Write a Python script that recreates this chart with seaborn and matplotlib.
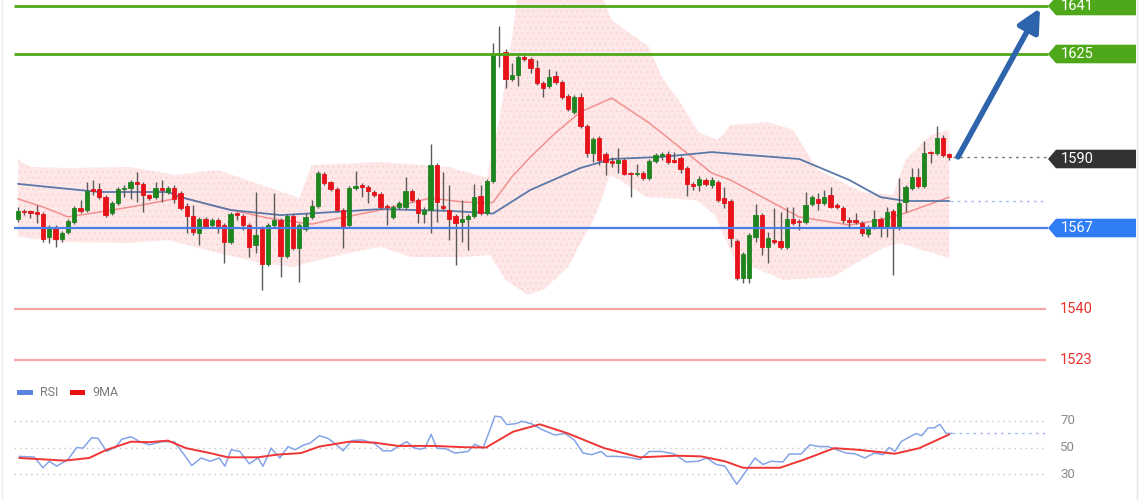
import numpy as np
import matplotlib
matplotlib.use("Agg")
import matplotlib.pyplot as plt
from matplotlib.patches import Polygon, Rectangle
import seaborn as sns

# ---------------- data ----------------
opens = [1570.0, 1572.7, 1572.7, 1572.0, 1571.7, 1564.0, 1567.0, 1563.3, 1565.7, 1569.0,
         1573.7, 1573.0, 1579.7, 1580.0, 1577.3, 1572.0, 1575.3, 1580.0, 1580.3, 1582.3,
         1581.7, 1578.0, 1577.3, 1580.3, 1579.0, 1580.3, 1578.7, 1574.3, 1571.0, 1565.3,
         1570.0, 1568.0, 1569.7, 1568.0, 1562.3, 1572.0, 1571.0, 1568.0, 1561.3, 1567.0,
         1555.0, 1568.0, 1569.7, 1557.7, 1571.0, 1560.3, 1566.7, 1570.7, 1574.3, 1585.0,
         1582.3, 1580.0, 1573.0, 1568.0, 1580.3, 1581.3, 1580.7, 1579.0, 1578.3, 1574.3,
         1570.7, 1574.0, 1574.0, 1579.3, 1576.3, 1571.7, 1573.0, 1588.0, 1574.0, 1573.0,
         1571.0, 1569.0, 1570.0, 1571.0, 1577.7, 1572.0, 1582.7, 1624.7, 1625.7, 1616.7,
         1618.0, 1624.0, 1623.3, 1620.3, 1615.3, 1614.3, 1617.7, 1615.7, 1611.0, 1605.7,
         1610.7, 1601.0, 1592.0, 1597.0, 1591.7, 1589.3, 1588.7, 1589.7, 1585.3, 1585.0,
         1585.3, 1583.7, 1589.3, 1591.0, 1591.7, 1589.7, 1590.3, 1587.0, 1581.7, 1581.3,
         1583.0, 1581.3, 1582.3, 1577.0, 1576.0, 1562.7, 1550.3, 1550.3, 1564.0, 1571.3,
         1560.7, 1563.0, 1562.7, 1560.7, 1570.0, 1569.3, 1569.0, 1575.0, 1576.7, 1575.3,
         1578.0, 1574.7, 1573.7, 1569.7, 1569.7, 1568.7, 1565.0, 1567.3, 1570.0, 1567.0,
         1572.7, 1567.0, 1575.7, 1580.3, 1584.0, 1581.0, 1592.3, 1592.0, 1597.0, 1591.7]
highs = [1574.0, 1573.3, 1573.0, 1574.7, 1572.3, 1568.0, 1568.0, 1566.0, 1570.0, 1574.3,
         1576.3, 1582.3, 1583.0, 1582.0, 1578.0, 1576.0, 1580.7, 1581.3, 1583.0, 1585.7,
         1582.3, 1578.5, 1582.3, 1583.0, 1581.0, 1581.3, 1579.3, 1575.3, 1574.7, 1570.7,
         1570.7, 1570.3, 1570.3, 1568.7, 1572.3, 1572.3, 1571.7, 1568.7, 1579.0, 1567.7,
         1568.7, 1578.7, 1570.3, 1571.7, 1571.7, 1568.7, 1572.0, 1576.3, 1586.0, 1585.7,
         1582.7, 1580.7, 1573.7, 1581.0, 1586.0, 1582.0, 1581.3, 1579.7, 1579.0, 1575.0,
         1574.7, 1576.0, 1584.0, 1580.0, 1577.0, 1574.0, 1595.0, 1588.7, 1585.7, 1581.3,
         1571.7, 1576.3, 1571.7, 1581.7, 1581.3, 1583.3, 1628.7, 1634.3, 1626.7, 1622.0,
         1624.7, 1624.7, 1624.0, 1623.0, 1616.0, 1620.0, 1619.3, 1616.3, 1611.7, 1611.3,
         1612.0, 1601.7, 1597.3, 1597.7, 1592.3, 1590.7, 1593.7, 1590.3, 1585.7, 1588.3,
         1586.0, 1590.0, 1592.0, 1592.3, 1592.7, 1592.3, 1591.0, 1587.7, 1582.3, 1584.3,
         1583.7, 1584.0, 1583.0, 1580.7, 1576.7, 1563.3, 1559.0, 1565.3, 1575.0, 1572.0,
         1565.7, 1573.7, 1572.3, 1574.0, 1574.0, 1570.0, 1579.0, 1578.0, 1578.7, 1579.7,
         1580.7, 1575.3, 1574.3, 1570.7, 1572.0, 1569.3, 1568.0, 1573.0, 1570.7, 1574.0,
         1573.3, 1583.7, 1581.3, 1587.0, 1587.0, 1596.0, 1592.7, 1601.0, 1598.0, 1592.0]
lows = [1569.0, 1571.3, 1570.3, 1568.7, 1562.3, 1562.0, 1560.7, 1562.5, 1565.0, 1568.3,
        1572.0, 1572.5, 1578.0, 1576.8, 1570.7, 1571.3, 1574.7, 1577.3, 1576.7, 1575.7,
        1572.3, 1576.3, 1576.7, 1575.7, 1578.3, 1575.3, 1573.0, 1565.3, 1564.7, 1561.3,
        1567.0, 1567.3, 1565.3, 1555.3, 1561.7, 1569.7, 1566.3, 1557.3, 1558.7, 1546.3,
        1554.3, 1567.3, 1550.7, 1557.0, 1559.7, 1549.0, 1566.0, 1570.0, 1573.7, 1581.3,
        1579.3, 1572.3, 1560.3, 1567.0, 1579.7, 1577.3, 1575.3, 1577.3, 1573.3, 1568.0,
        1570.0, 1573.3, 1573.3, 1575.7, 1568.7, 1568.7, 1565.3, 1569.0, 1573.0, 1563.0,
        1554.7, 1562.3, 1559.7, 1570.3, 1571.3, 1571.3, 1582.0, 1620.7, 1613.7, 1616.0,
        1614.3, 1622.7, 1618.7, 1614.7, 1610.7, 1613.7, 1615.0, 1610.0, 1606.0, 1605.0,
        1600.3, 1590.7, 1589.0, 1588.0, 1584.7, 1587.3, 1585.3, 1584.7, 1577.3, 1584.3,
        1583.0, 1583.0, 1588.7, 1589.7, 1588.3, 1588.7, 1585.3, 1577.7, 1579.7, 1579.3,
        1581.0, 1580.3, 1575.7, 1573.7, 1560.7, 1549.7, 1548.7, 1548.7, 1562.3, 1558.0,
        1555.3, 1561.7, 1560.0, 1560.0, 1568.0, 1566.3, 1568.3, 1574.3, 1573.0, 1574.7,
        1573.7, 1573.3, 1568.7, 1567.3, 1568.3, 1564.3, 1564.0, 1566.7, 1564.0, 1564.0,
        1551.3, 1566.3, 1572.3, 1579.7, 1580.3, 1580.3, 1588.7, 1591.3, 1590.7, 1589.7]
closes = [1572.7, 1572.3, 1572.0, 1571.8, 1563.3, 1567.0, 1563.3, 1565.3, 1569.3, 1573.7,
          1572.7, 1579.3, 1579.5, 1577.3, 1571.3, 1575.3, 1580.0, 1580.3, 1582.3, 1581.7,
          1578.0, 1577.0, 1580.3, 1579.7, 1580.3, 1576.7, 1573.7, 1571.0, 1565.7, 1570.0,
          1567.7, 1569.7, 1567.7, 1562.3, 1571.7, 1571.3, 1568.0, 1560.7, 1564.7, 1555.0,
          1568.0, 1569.7, 1557.7, 1571.0, 1560.3, 1568.0, 1570.7, 1574.3, 1585.3, 1582.0,
          1580.0, 1573.0, 1567.7, 1580.3, 1581.0, 1580.7, 1579.3, 1578.0, 1574.0, 1574.0,
          1574.0, 1575.3, 1579.3, 1576.3, 1572.0, 1573.0, 1588.0, 1575.7, 1573.7, 1570.0,
          1568.7, 1570.0, 1571.0, 1577.3, 1572.0, 1582.7, 1625.0, 1625.3, 1616.7, 1618.0,
          1624.0, 1623.3, 1620.3, 1615.3, 1613.7, 1617.3, 1615.7, 1610.7, 1606.7, 1610.7,
          1601.0, 1592.0, 1596.7, 1589.7, 1589.0, 1588.7, 1589.7, 1585.0, 1585.0, 1585.3,
          1583.7, 1589.3, 1591.3, 1591.7, 1589.0, 1589.0, 1586.7, 1581.7, 1581.0, 1583.3,
          1581.7, 1583.0, 1576.3, 1575.3, 1563.7, 1550.3, 1558.3, 1564.7, 1571.3, 1560.7,
          1563.7, 1562.3, 1560.7, 1570.0, 1568.7, 1569.0, 1574.7, 1577.3, 1575.3, 1577.3,
          1574.0, 1574.0, 1569.7, 1569.0, 1569.0, 1565.3, 1567.0, 1570.0, 1567.0, 1572.3,
          1567.0, 1575.3, 1580.7, 1584.0, 1581.0, 1592.0, 1592.0, 1597.0, 1591.3, 1590.7]

# long moving average (blue) read at bar positions
ma_blue_bar = [0, 13, 24, 26, 34, 42, 48, 58, 69, 75, 76, 82, 90, 95, 103, 111, 117, 125, 133, 138, 142, 149]
ma_blue = [1581.7, 1579.0, 1579.0, 1577.3, 1573.0, 1571.3, 1572.0, 1573.3, 1572.7, 1572.0, 1571.8,
           1579.7, 1587.0, 1590.0, 1590.7, 1592.3, 1591.3, 1590.0, 1583.0, 1577.3, 1576.0, 1576.0]
# middle band (red)
ma_red_bar = [0, 4, 8, 13, 18, 24, 26, 32, 40, 47, 50, 58, 66, 71, 75, 76, 79, 82, 86, 90, 95,
              101, 106, 111, 114, 120, 125, 133, 138, 142, 149]
ma_red = [1576.7, 1574.0, 1570.7, 1572.3, 1574.0, 1576.3, 1577.3, 1574.0, 1570.3, 1568.3, 1569.7,
          1573.0, 1577.0, 1575.7, 1575.3, 1575.5, 1584.0, 1590.7, 1598.7, 1605.7, 1610.3,
          1602.0, 1593.7, 1585.3, 1583.0, 1576.3, 1570.7, 1568.0, 1569.7, 1572.0, 1577.3]
# Bollinger envelope
band_up_bar = [0, 2, 8, 18, 25, 32, 39, 45, 47, 58, 69, 75, 77, 79, 80, 93, 95, 101, 103, 106, 109,
               112, 114, 120, 124, 128, 135, 140, 142, 146, 149]
band_up = [1589.7, 1587.3, 1587.0, 1587.3, 1584.7, 1586.3, 1581.3, 1577.0, 1588.0, 1589.0,
           1587.3, 1583.7, 1603.0, 1629.7, 1646.3, 1646.3, 1636.3, 1627.3, 1617.3, 1608.7, 1598.7,
           1596.3, 1601.3, 1602.3, 1599.7, 1586.3, 1579.0, 1578.0, 1589.7, 1598.0, 1599.7]
band_lo_bar = [0, 8, 18, 24, 32, 39, 44, 48, 53, 58, 63, 71, 75.5, 78, 81.5, 84, 88, 92.6, 94.7,
               96.3, 100.6, 108.6, 111.5, 114.7, 118.7, 122.4, 130.4, 133, 138.4, 141, 149]
band_lo = [1564.0, 1562.3, 1562.0, 1563.0, 1558.7, 1555.3, 1554.0, 1556.3, 1558.7, 1560.7,
           1557.3, 1557.3, 1558.0, 1549.7, 1544.7, 1546.3, 1554.0, 1572.0, 1584.7, 1583.0,
           1577.3, 1576.3, 1571.3, 1556.3, 1553.0, 1549.7, 1550.7, 1554.0, 1560.3, 1562.0, 1557.0]

# RSI panel
rsi_bar = [0.2, 2.6, 4.0, 5.0, 6.2, 8.0, 9.4, 10.4, 11.8, 12.8,
           14.2, 15.7, 16.6, 18.1, 19.5, 21.0, 23.0, 25.0, 26.4, 27.8,
           29.3, 30.7, 32.2, 33.1, 34.1, 35.5, 37.0, 38.4, 39.2, 40.5,
           41.9, 43.2, 44.3, 45.8, 46.7, 48.2, 49.6, 51.0, 52.0, 53.4,
           55.0, 57.0, 58.4, 59.8, 60.8, 62.2, 63.2, 64.2, 65.1, 66.1,
           67.0, 68.5, 69.9, 72.0, 73.1, 74.4, 75.4, 76.3, 77.3, 78.2,
           79.7, 80.6, 82.1, 84.0, 85.9, 87.5, 89.0, 90.4, 91.8, 93.3,
           94.2, 95.7, 97.6, 99.5, 101.0, 103.0, 105.0, 106.9, 108.8, 110.2,
           111.7, 113.1, 115.0, 116.5, 117.9, 119.2, 120.5, 122.4, 123.4, 125.3,
           126.7, 128.2, 129.6, 131.0, 132.5, 133.9, 135.5, 137.0, 138.4, 139.4,
           140.3, 141.3, 142.7, 143.7, 144.6, 145.6, 146.6, 147.5, 148.5, 149.4]
rsi = [43.3, 42.8, 34.7, 39.6, 35.9, 40.9, 50.0, 49.5, 57.4, 56.9,
       47.0, 50.7, 56.2, 58.1, 54.4, 52.0, 54.4, 54.4, 45.8, 36.4,
       42.1, 39.6, 42.1, 35.9, 48.3, 47.0, 37.7, 42.1, 35.9, 49.5,
       42.1, 50.7, 48.3, 52.0, 53.2, 58.9, 56.9, 52.0, 47.5, 55.2,
       55.7, 53.2, 47.5, 47.5, 50.7, 54.4, 50.0, 48.8, 49.5, 59.9,
       49.5, 49.0, 45.8, 47.0, 52.5, 49.5, 61.9, 73.7, 73.0, 67.3,
       68.0, 69.8, 68.0, 63.1, 59.4, 60.6, 55.7, 45.8, 44.6, 47.0,
       43.3, 43.3, 42.6, 40.9, 47.0, 47.0, 45.1, 39.1, 39.6, 42.1,
       37.2, 35.9, 22.3, 32.2, 42.1, 37.2, 39.6, 39.1, 45.1, 45.1,
       52.0, 50.7, 50.7, 48.3, 45.8, 45.3, 42.1, 45.8, 44.6, 50.0,
       47.0, 54.4, 58.1, 60.6, 58.9, 64.8, 64.8, 67.5, 60.6, 60.6]
ma9_bar = [0.2, 7.5, 11.4, 14.2, 18.1, 21.0, 24.0, 26.9, 30.7, 33.6, 38.4, 41.4, 45.3, 48.2,
           53.0, 57.0, 60.8, 66.6, 71.5, 74.9, 79.2, 83.5, 88.0, 93.8, 99.5, 105.4, 109.3,
           113.1, 116.0, 121.9, 125.8, 130.6, 134.4, 140.3, 144.2, 149.0]
ma9 = [42.1, 40.1, 42.1, 48.3, 54.4, 54.0, 55.2, 49.5, 45.8, 42.6, 42.6, 44.6, 45.8, 50.7,
       54.4, 53.7, 51.2, 51.2, 50.2, 50.0, 61.9, 67.5, 60.6, 49.5, 42.6, 43.8, 43.3,
       39.6, 34.7, 34.7, 40.9, 49.5, 48.3, 45.3, 49.5, 59.9]

resist_levels = [1641, 1625]
resist_labels = ["1641", "1625"]
pivot_level, pivot_label = 1567, "1567"
last_price, last_label = 1590, "1590"
support_levels = [1540, 1523]
support_labels = ["1540", "1523"]
rsi_ticks = [70, 50, 30]
target_price = 1640.3

# ---------------- styling ----------------
sns.set_style("white")
plt.rcParams['font.family'] = ['Roboto', 'DejaVu Sans']
plt.rcParams['hatch.linewidth'] = 0.6

GREEN_LINE = '#4ea81a'
BLUE_LINE = '#4a7fe8'
BLUE_TAG = '#2f7ef5'
DARK_TAG = '#333333'
SUP_LINE = '#f8a4a4'
SUP_TEXT = '#e8322c'
UP = '#1f861f'
DOWN = '#e8121a'

W, H = 1140, 500
fig = plt.figure(figsize=(W / 100, H / 100), dpi=100)
fig.patch.set_facecolor('white')

px = 6.25          # pixels per bar
x0 = 18            # pixel of first bar
xlim = (-x0 / px, (W - x0) / px)
line_l = (14 - x0) / px
line_r = (1048 - x0) / px

ax = fig.add_axes([0, 1 - 375 / H, 1, 375 / H])
ax.set_xlim(*xlim)
ax.set_ylim(1518, 1643)
ax.axis('off')

# Bollinger envelope
poly_x = list(band_up_bar) + list(band_lo_bar[::-1])
poly_y = list(band_up) + list(band_lo[::-1])
ax.fill(poly_x, poly_y, facecolor='#fde7e7', edgecolor='none', zorder=1)
ax.fill(poly_x, poly_y, facecolor='none', edgecolor='#fad3d3', hatch='...', lw=0, zorder=1)

# moving averages
sns.lineplot(x=ma_red_bar, y=ma_red, ax=ax, color='#f39090', lw=1.1, zorder=2)
sns.lineplot(x=ma_blue_bar, y=ma_blue, ax=ax, color='#5a78a8', lw=1.3, zorder=2)

# candles
bars = np.arange(len(opens))
o = np.array(opens); c = np.array(closes); h = np.array(highs); l = np.array(lows)
ax.vlines(bars, l, h, colors='#5a5a5a', lw=1.0, zorder=3)
bottoms = np.minimum(o, c)
heights = np.maximum(np.abs(c - o), 0.5)
cols = [UP if cc >= oo else DOWN for oo, cc in zip(o, c)]
ax.bar(bars, heights, bottom=bottoms, width=0.7, color=cols, edgecolor=cols, lw=0.6, zorder=4)

# horizontal levels
for lv in resist_levels:
    ax.hlines(lv, line_l, line_r, colors=GREEN_LINE, lw=2.0, zorder=5)
ax.hlines(pivot_level, line_l, line_r, colors=BLUE_LINE, lw=1.6, zorder=5)
for lv in support_levels:
    ax.hlines(lv, line_l, line_r - 0.3, colors=SUP_LINE, lw=1.6, zorder=5)
ax.hlines(closes[-1], len(opens) - 0.4, line_r, colors='#777777', lw=1, linestyles=(0, (2, 3)), zorder=5)
ax.hlines(ma_blue[-1], len(opens) - 0.8, line_r - 0.3, colors='#a8bce8', lw=1, linestyles=(0, (2, 3)), zorder=5)

def tag(price, text, color):
    xt = (1048 - x0) / px
    xs = (1056 - x0) / px
    xe = (1136 - x0) / px
    hh = 3.1
    pts = [(xt, price), (xs, price + hh), (xe, price + hh), (xe, price - hh), (xs, price - hh)]
    ax.add_patch(Polygon(pts, closed=True, fc=color, ec='none', zorder=6))
    ax.text((1061 - x0) / px, price, text, color='white', fontsize=10.5, va='center', ha='left', zorder=7)

for lv, lb in zip(resist_levels, resist_labels):
    tag(lv, lb, GREEN_LINE)
tag(last_price, last_label, DARK_TAG)
tag(pivot_level, pivot_label, BLUE_TAG)
for lv, lb in zip(support_levels, support_labels):
    ax.text((1060 - x0) / px, lv, lb, color=SUP_TEXT, fontsize=10.5, va='center', ha='left', zorder=7)

# forecast arrow
ax.annotate('', xy=((1040 - x0) / px, target_price), xytext=(len(opens) + 0.4, closes[-1]),
            arrowprops=dict(arrowstyle='-|>', color='#2e64ab', lw=4, mutation_scale=34,
                            shrinkA=0, shrinkB=0), zorder=8)

# ---------------- RSI panel ----------------
ax2 = fig.add_axes([0, 1 - 490 / H, 1, 85 / H])
ax2.set_xlim(*xlim)
ax2.set_ylim(30 - 16 / 1.325, 70 + 16 / 1.325)
ax2.axis('off')
ax2.hlines(rsi_ticks, line_l, line_r - 0.5, colors='#c4c4c4', lw=1, linestyles=(0, (1, 3)), zorder=1)
for t in rsi_ticks:
    ax2.text((1060 - x0) / px, t, str(t), color='#8a8a8a', fontsize=9.5, va='center', ha='left')
sns.lineplot(x=rsi_bar, y=rsi, ax=ax2, color='#85a4e8', lw=1.1, zorder=3)
sns.lineplot(x=ma9_bar, y=ma9, ax=ax2, color='#f03535', lw=1.4, zorder=4)
ax2.hlines(rsi[-1], rsi_bar[-1], line_r - 0.5, colors='#a8bce8', lw=1, linestyles=(0, (2, 3)), zorder=2)

# legend
fig.add_artist(Rectangle((17 / W, 1 - 395 / H), 16 / W, 5 / H, transform=fig.transFigure,
                         fc='#5b84e0', ec='none'))
fig.text(40 / W, 1 - 392 / H, 'RSI', color='#7a7a7a', fontsize=9, va='center', ha='left')
fig.add_artist(Rectangle((70 / W, 1 - 395 / H), 15 / W, 5 / H, transform=fig.transFigure,
                         fc='#e81010', ec='none'))
fig.text(92 / W, 1 - 392 / H, '9MA', color='#7a7a7a', fontsize=9, va='center', ha='left')

# faint frame edges
fig.add_artist(plt.Line2D([1137 / W, 1137 / W], [0, 1], transform=fig.transFigure, color='#e4e4e4', lw=1))
fig.add_artist(plt.Line2D([2 / W, 2 / W], [0, 1], transform=fig.transFigure, color='#eceff0', lw=1))

fig.savefig('out.png', dpi=100, facecolor='white')
